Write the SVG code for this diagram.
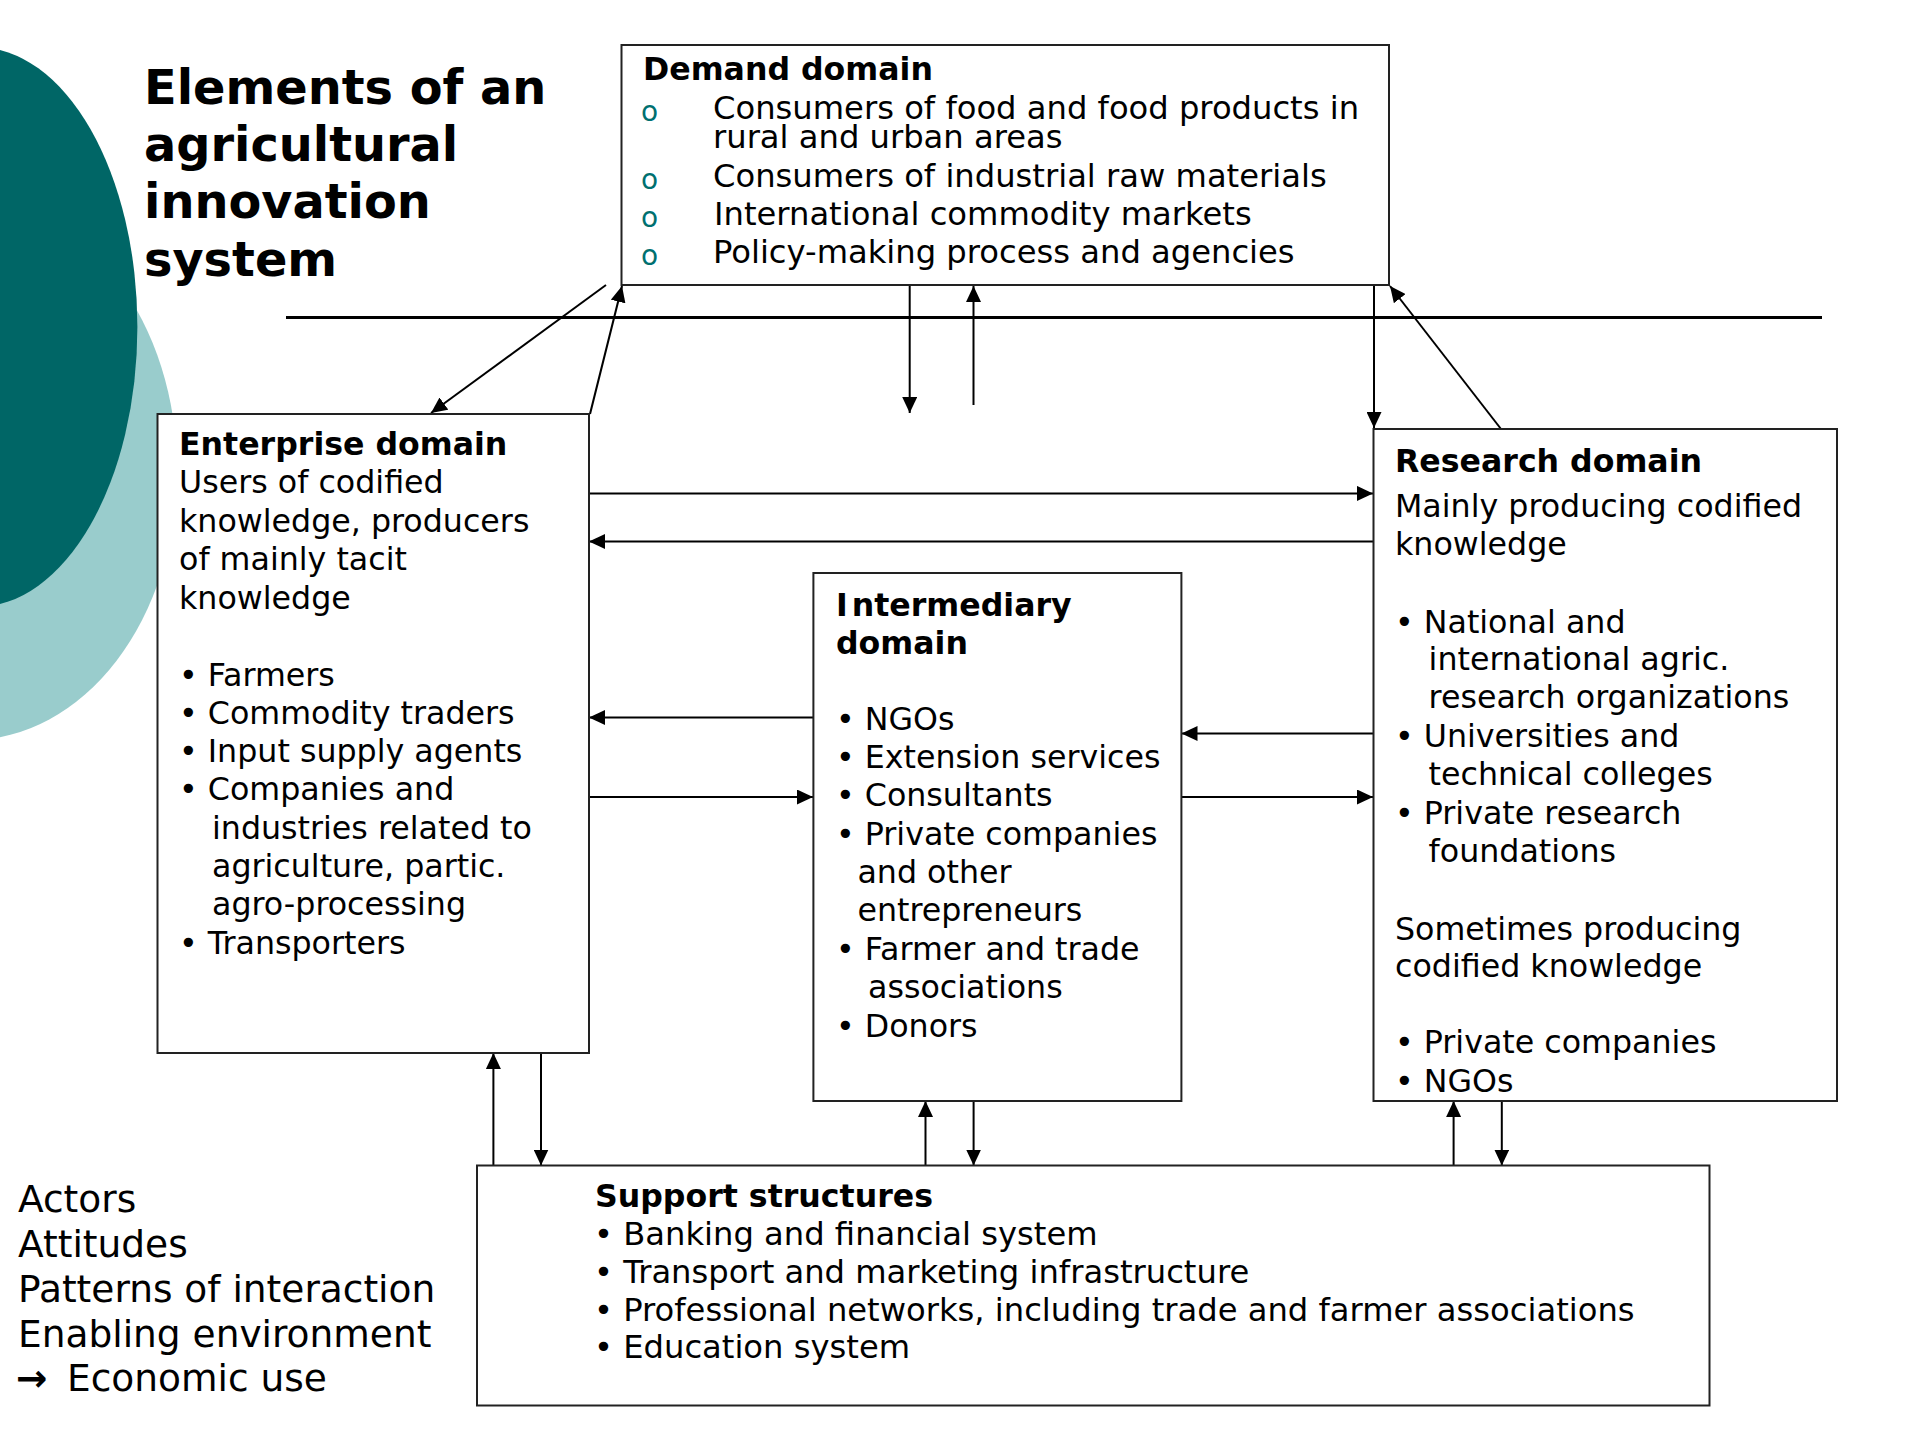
<svg xmlns="http://www.w3.org/2000/svg" width="1915" height="1435" viewBox="0 0 1915 1435">
<defs>
<marker id="ah" markerUnits="userSpaceOnUse" markerWidth="16" markerHeight="15" refX="16" refY="7.5" orient="auto">
<path d="M0,0 L16,7.5 L0,15 z" fill="#000"/>
</marker>
<style>
.box{fill:#fff;stroke:#222;stroke-width:2}
.con{fill:none;stroke:#000;stroke-width:2;marker-end:url(#ah)}
.t{font-family:"DejaVu Sans",Verdana,sans-serif;font-size:31.7px;fill:#000}
.td{font-family:"DejaVu Sans",Verdana,sans-serif;font-size:32.2px;fill:#000}
.ts{font-family:"DejaVu Sans",Verdana,sans-serif;font-size:32.2px;fill:#000}
.b{font-family:"DejaVu Sans",Verdana,sans-serif;font-size:31.6px;font-weight:bold;fill:#000}
.title{font-family:"DejaVu Sans",Verdana,sans-serif;font-size:47.8px;font-weight:bold;fill:#000}
.side{font-family:"DejaVu Sans",Verdana,sans-serif;font-size:37.5px;fill:#000}
.o{font-family:"DejaVu Sans",Verdana,sans-serif;font-size:28px;fill:#007070}
</style>
</defs>
<rect width="1915" height="1435" fill="#fff"/>
<ellipse cx="-30" cy="470" rx="207" ry="270" fill="#99cccc"/>
<ellipse cx="-23" cy="327" rx="160.4" ry="280" fill="#006666"/>
<g id="title">
<text class="title" x="144" y="104">Elements of an</text>
<text class="title" x="144" y="161">agricultural</text>
<text class="title" x="144" y="218">innovation</text>
<text class="title" x="144" y="276">system</text>
</g>
<line x1="286" y1="317.5" x2="1822" y2="317.5" stroke="#000" stroke-width="3"/>
<g id="connectors">
<path class="con" d="M606,285 L431,413"/>
<path class="con" d="M590,414 L622,286"/>
<path class="con" d="M909.7,285 L909.7,413"/>
<path class="con" d="M973.5,405 L973.5,286"/>
<path class="con" d="M1374,285 L1374,428"/>
<path class="con" d="M1501,429 L1390,286"/>
<path class="con" d="M589,493.4 L1373,493.4"/>
<path class="con" d="M1373,541.5 L589,541.5"/>
<path class="con" d="M813,717.5 L589,717.5"/>
<path class="con" d="M589,797 L813,797"/>
<path class="con" d="M1373,733.5 L1181.5,733.5"/>
<path class="con" d="M1181.5,797 L1373,797"/>
<path class="con" d="M493.4,1165.5 L493.4,1053"/>
<path class="con" d="M541,1053 L541,1165.5"/>
<path class="con" d="M925.5,1165.5 L925.5,1101"/>
<path class="con" d="M973.6,1101 L973.6,1165.5"/>
<path class="con" d="M1453.6,1165.5 L1453.6,1101"/>
<path class="con" d="M1501.8,1101 L1501.8,1165.5"/>
</g>
<g id="demand">
<rect class="box" x="621.5" y="45" width="767.5" height="240"/>
<text class="b" x="643" y="80">Demand domain</text>
<text class="o" x="641" y="121">o</text>
<text class="td" x="713" y="119.3">Consumers of food and food products in</text>
<text class="td" x="713" y="148.3">rural and urban areas</text>
<text class="o" x="641" y="189">o</text>
<text class="td" x="713" y="187.3">Consumers of industrial raw materials</text>
<text class="o" x="641" y="226.5">o</text>
<text class="td" x="714" y="225">International commodity markets</text>
<text class="o" x="641" y="264.5">o</text>
<text class="td" x="713" y="263.3">Policy-making process and agencies</text>
</g>
<g id="enterprise">
<rect class="box" x="157.5" y="414" width="431.5" height="639"/>
<text class="b" x="179" y="455">Enterprise domain</text>
<text class="t" x="179" y="493">Users of codified</text>
<text class="t" x="179" y="531.5">knowledge, producers</text>
<text class="t" x="179" y="570">of mainly tacit</text>
<text class="t" x="179" y="608.5">knowledge</text>
<text class="t" x="179" y="685.5">• Farmers</text>
<text class="t" x="179" y="723.8">• Commodity traders</text>
<text class="t" x="179" y="762">• Input supply agents</text>
<text class="t" x="179" y="800.3">• Companies and</text>
<text class="t" x="212" y="838.6">industries related to</text>
<text class="t" x="212" y="876.9">agriculture, partic.</text>
<text class="t" x="212" y="915.2">agro-processing</text>
<text class="t" x="179" y="953.5">• Transporters</text>
</g>
<g id="intermediary">
<rect class="box" x="813.4" y="573" width="368" height="528"/>
<text class="b" x="836" y="616.4">I<tspan dx="4">ntermediary</tspan></text>
<text class="b" x="836" y="653.6">domain</text>
<text class="t" x="836" y="729.6">• NGOs</text>
<text class="t" x="836" y="767.9">• Extension services</text>
<text class="t" x="836" y="806.4">• Consultants</text>
<text class="t" x="836" y="844.6">• Private companies</text>
<text class="t" x="857.4" y="883.2">and other</text>
<text class="t" x="857.4" y="921.4">entrepreneurs</text>
<text class="t" x="836" y="960">• Farmer and trade</text>
<text class="t" x="868" y="997.5">associations</text>
<text class="t" x="836" y="1036.8">• Donors</text>
</g>
<g id="research">
<rect class="box" x="1373.5" y="429" width="463.5" height="672"/>
<text class="b" x="1395" y="471.7">Research domain</text>
<text class="t" x="1395" y="517.3">Mainly producing codified</text>
<text class="t" x="1395" y="555">knowledge</text>
<text class="t" x="1395" y="632.7">• National and</text>
<text class="t" x="1428.6" y="670">international agric.</text>
<text class="t" x="1428.6" y="708.3">research organizations</text>
<text class="t" x="1395" y="746.7">• Universities and</text>
<text class="t" x="1428.6" y="785">technical colleges</text>
<text class="t" x="1395" y="824">• Private research</text>
<text class="t" x="1428.6" y="861.7">foundations</text>
<text class="t" x="1395" y="940">Sometimes producing</text>
<text class="t" x="1395" y="977.3">codified knowledge</text>
<text class="t" x="1395" y="1053.3">• Private companies</text>
<text class="t" x="1395" y="1091.7">• NGOs</text>
</g>
<g id="support">
<rect class="box" x="477" y="1165.5" width="1232.5" height="240"/>
<text class="b" x="595" y="1206.7">Support structures</text>
<text class="ts" x="594" y="1245">• Banking and financial system</text>
<text class="ts" x="594" y="1283.3">• Transport and marketing infrastructure</text>
<text class="ts" x="594" y="1320.7">• Professional networks, including trade and farmer associations</text>
<text class="ts" x="594" y="1358.3">• Education system</text>
</g>
<g id="elements">
<text class="side" x="18" y="1211.7">Actors</text>
<text class="side" x="18" y="1256.7">Attitudes</text>
<text class="side" x="18" y="1301.7">Patterns of interaction</text>
<text class="side" x="18" y="1346.7">Enabling environment</text>
<text class="side" x="16" y="1391"><tspan font-weight="bold">→</tspan> <tspan x="67">Economic use</tspan></text>
</g>
</svg>
